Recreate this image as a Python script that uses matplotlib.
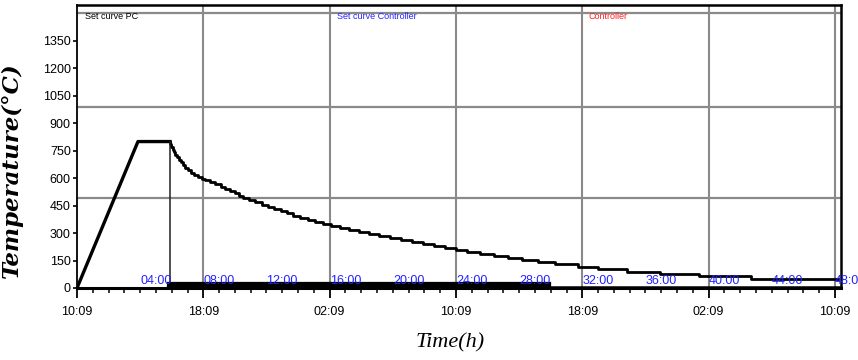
import matplotlib.pyplot as plt
from matplotlib.ticker import MultipleLocator

# heating: ramp and hold (hours since 10:09, °C)
ramp_hours = [0, 3.86, 5.89]
ramp_temps = [0, 800, 800]

# cooling set curve, staircase (hours, °C)
cool_hours = [5.89, 5.92, 5.98, 6.05, 6.13, 6.22, 6.32, 6.43, 6.56, 6.70, 6.86,
              7.03, 7.22, 7.42, 7.64, 7.90, 8.10, 8.40, 8.75, 9.10, 9.40, 9.70,
              10.00, 10.25, 10.50, 10.90, 11.30, 11.70, 12.10, 12.50, 12.90,
              13.30, 13.70, 14.10, 14.60, 15.10, 15.60, 16.10, 16.65, 17.25,
              17.85, 18.50, 19.15, 19.80, 20.50, 21.20, 21.90, 22.60, 23.30,
              24.00, 24.70, 25.50, 26.40, 27.30, 28.20, 29.20, 30.30, 31.70,
              33.00, 34.80, 36.90, 39.40, 42.70, 48.20]
cool_temps = [800, 784, 770, 756, 742, 728, 714, 700, 686, 672, 658,
              644, 630, 616, 604, 597, 590, 578, 566, 553, 541, 529,
              517, 505, 492, 480, 468, 456, 444, 432, 420,
              408, 396, 382, 370, 359, 348, 338, 327, 316,
              305, 294, 283, 272, 261, 250, 239, 228, 218,
              208, 197, 186, 175, 164, 154, 143, 131, 116,
              102, 89, 78, 65, 51, 51]

# controller set curve: drop at end of hold, then near zero
ctrl_drop_hours = [5.89, 5.89]
ctrl_drop_temps = [800, 0]
ctrl_band_hours = [5.89, 29.8]
ctrl_band_temps = [14, 14]
ctrl_tail_hours = [29.8, 48.3]
ctrl_tail_temps = [5, 5]

x_ticks = [0, 8, 16, 24, 32, 40, 48]
x_labels = ["10:09", "18:09", "02:09", "10:09", "18:09", "02:09", "10:09"]
y_ticks = [0, 150, 300, 450, 600, 750, 900, 1050, 1200, 1350]
elapsed_hours = [4, 8, 12, 16, 20, 24, 28, 32, 36, 40, 44, 48]
elapsed_labels = ["04:00", "08:00", "12:00", "16:00", "20:00", "24:00",
                  "28:00", "32:00", "36:00", "40:00", "44:00", "48:00"]
h_grid = [492, 989, 1503]

sans = ["Liberation Sans", "DejaVu Sans"]

fig = plt.figure(figsize=(8.58, 3.6), dpi=100)
ax = fig.add_axes([77 / 858, 72 / 360, 764 / 858, 283 / 360])
ax.set_xlim(0, 48.38)
ax.set_ylim(0, 1546)

for v in x_ticks[1:]:
    ax.axvline(v, color="#8a8a8a", lw=1.5, zorder=1)
for v in h_grid:
    ax.axhline(v, color="#8a8a8a", lw=1.6, zorder=1)

ax.plot(ramp_hours, ramp_temps, color="black", lw=2.4, zorder=3)
ax.plot(cool_hours, cool_temps, color="black", lw=2.0, drawstyle="steps-post", zorder=3)
ax.plot(ctrl_drop_hours, ctrl_drop_temps, color="#222222", lw=1.1, zorder=3)
ax.plot(ctrl_band_hours, ctrl_band_temps, color="black", lw=4.5, zorder=3)
ax.plot(ctrl_tail_hours, ctrl_tail_temps, color="black", lw=1.8, zorder=3)

for h, lab in zip(elapsed_hours, elapsed_labels):
    ax.text(h, 22, lab, color="#2323ff", fontsize=9, family=sans,
            ha="left", va="baseline", clip_on=False, zorder=4)

ax.text(0.0105, 0.961, "Set curve PC", transform=ax.transAxes, color="black",
        fontsize=6.5, family=sans, va="center")
ax.text(0.340, 0.961, "Set curve Controller", transform=ax.transAxes, color="#2323ff",
        fontsize=6.5, family=sans, va="center")
ax.text(0.669, 0.961, "Controller", transform=ax.transAxes, color="#ff2020",
        fontsize=6.5, family=sans, va="center")

ax.set_xticks(x_ticks)
ax.set_xticklabels(x_labels, family=sans, fontsize=9)
ax.xaxis.set_minor_locator(MultipleLocator(1))
ax.tick_params(axis="x", which="major", direction="out", length=7, width=1.3, pad=6)
ax.tick_params(axis="x", which="minor", direction="out", length=3.5, width=1.1)

ax.set_yticks(y_ticks)
ax.set_yticklabels([str(v) for v in y_ticks], family=sans, fontsize=9)
ax.tick_params(axis="y", which="major", direction="out", length=3, width=1.2, pad=1.5)

ax.spines["bottom"].set_linewidth(2.2)
ax.spines["top"].set_linewidth(1.8)
ax.spines["left"].set_linewidth(1.3)
ax.spines["right"].set_linewidth(1.8)

fig.text(12 / 858, 1 - 170 / 360, "Temperature(°C)", rotation=90, ha="center", va="center",
         family="DejaVu Serif", fontweight="bold", fontstyle="italic", fontsize=16.5)
fig.text(450 / 858, 1 - 343 / 360, "Time(h)", ha="center", va="center",
         family="Liberation Serif", fontstyle="italic", fontsize=16)

fig.savefig("out.png", dpi=100)
